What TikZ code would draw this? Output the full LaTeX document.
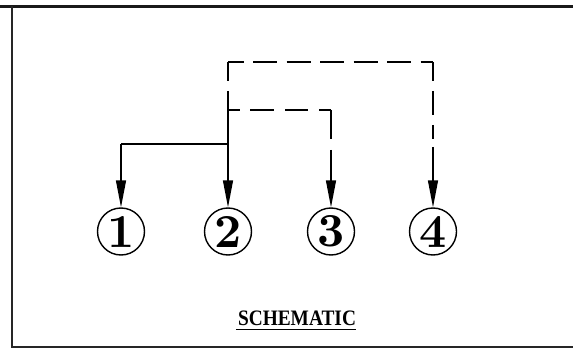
\documentclass[tikz,border=0pt]{standalone}
\usepackage{fontspec}
\usepackage{graphicx}
\newfontfamily\titlefont{Liberation Serif}
\usetikzlibrary{arrows.meta}
\newcommand{\circnum}[1]{\resizebox{!}{31pt}{\bfseries #1}}
\begin{document}
\begin{tikzpicture}[x=1pt,y=-1pt,
  frameline/.style={line width=1.5pt,black!85},
  conn/.style={line width=1.4pt,black},
  arr/.style={conn,-{Triangle[length=27pt,width=10pt]}},
  numcircle/.style={circle,draw,line width=1.4pt,minimum size=47pt,inner sep=0pt},
  titletext/.style={inner sep=0pt}
]
\useasboundingbox (0,0) rectangle (573,350);
% frame
\coordinate (ftl) at (0,6.5);
\coordinate (ftr) at (573,6.5);
\coordinate (flt) at (12,6.5);
\coordinate (flb) at (12,347);
\coordinate (fbr) at (573,347);
\draw[line width=2.2pt,black!90] (ftl) -- (ftr);
\draw[frameline] (flt) -- (flb) -- (fbr);

% numbered nodes
\node[numcircle] (n1) at (121,231.5) {\circnum{1}};
\node[numcircle] (n2) at (228,231.5) {\circnum{2}};
\node[numcircle] (n3) at (331,231.5) {\circnum{3}};
\node[numcircle] (n4) at (433,231.5) {\circnum{4}};

% junctions
\coordinate (j1) at (121,144);
\coordinate (j2) at (228,144);
\coordinate (s2) at (228,91);
\coordinate (d3a) at (228,110);
\coordinate (d3b) at (331,110);
\coordinate (d4a) at (228,62);
\coordinate (d4b) at (433,62);

% solid connectors
\draw[conn] (j2) -- (j1);
\draw[arr] (j1) -- (n1.north);
\draw[arr] (s2) -- (n2.north);

% dashed connector to 3
\draw[conn,dash pattern=on 12pt off 10pt on 24pt off 11pt on 23pt off 11pt on 12pt off 0pt] (d3a) -- (d3b);
\draw[arr,dash pattern=on 29pt off 11pt on 200pt off 0pt] (d3b) -- (n3.north);

% dashed connector to 4
\draw[conn,dash pattern=on 19pt off 100pt] (d4a) -- (s2);
\draw[conn,dash pattern=on 16pt off 9pt on 24pt off 9.5pt on 24pt off 9.5pt on 24pt off 9.5pt on 24pt off 9.5pt on 24pt off 9.5pt on 13pt off 0pt] (d4a) -- (d4b);
\draw[arr,dash pattern=on 19pt off 10pt on 24pt off 10pt on 14pt off 8pt on 200pt off 0pt] (d4b) -- (n4.north);

% title
\node[titletext,anchor=base] (title) at (297,325) {\resizebox{118pt}{14.6pt}{\titlefont\bfseries SCHEMATIC}};
\draw[line width=1.8pt] ([xshift=-2pt,yshift=-4.5pt]title.base west) -- ([yshift=-4.5pt]title.base east);
\end{tikzpicture}
\end{document}
